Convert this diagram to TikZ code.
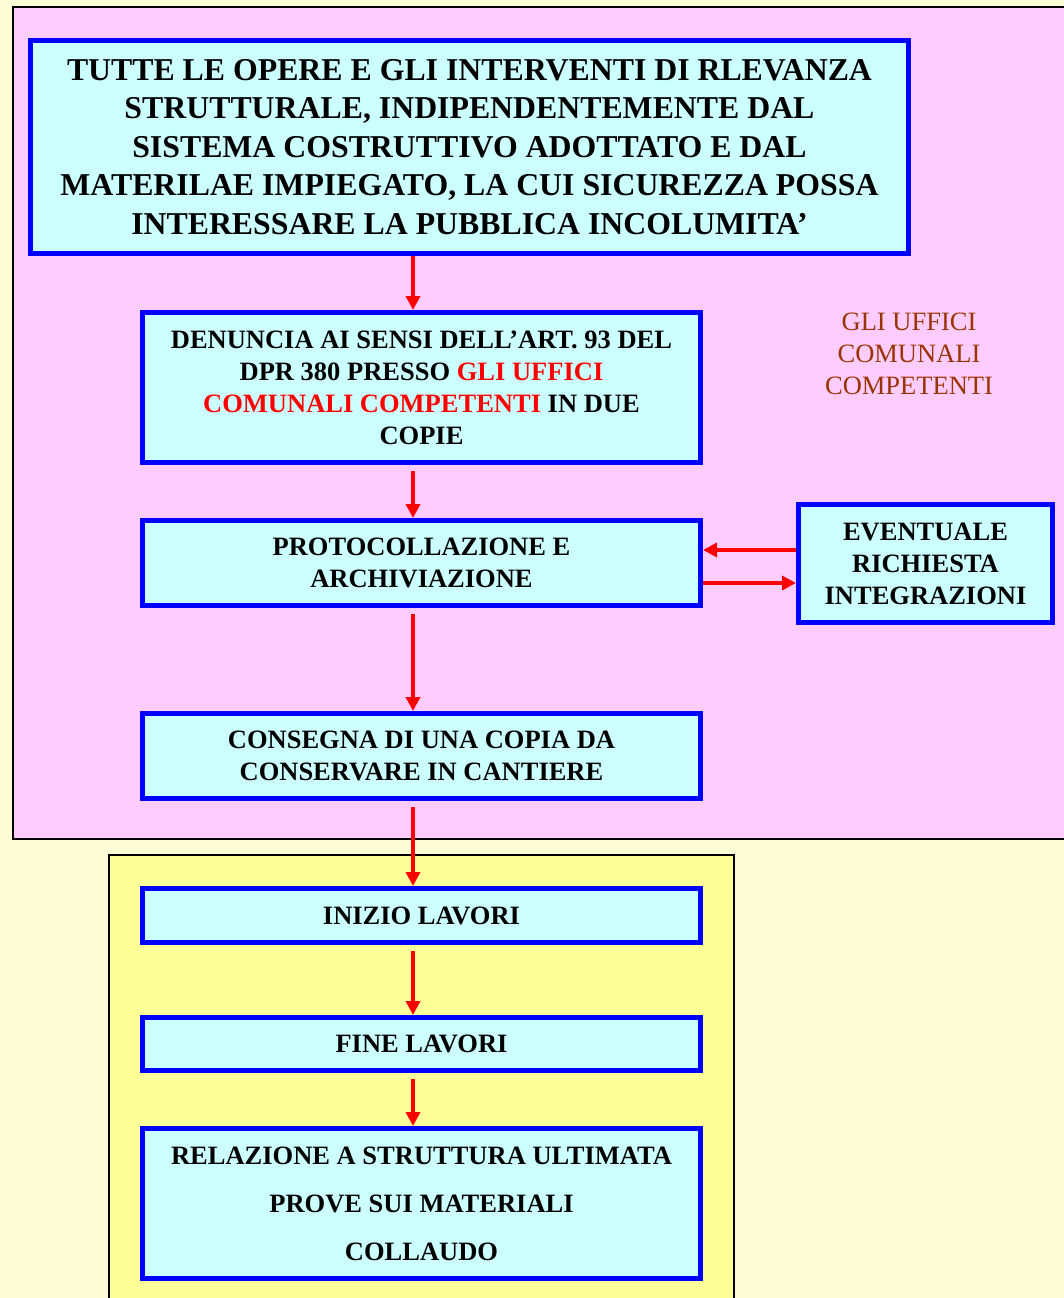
\documentclass[tikz,border=0pt]{standalone}
\usepackage{fontspec}
\setmainfont{Liberation Serif}
\usetikzlibrary{arrows.meta}
\definecolor{bgyellow}{HTML}{FCFCD6}
\definecolor{areapink}{HTML}{FFCCFF}
\definecolor{areayellow}{HTML}{FFFF99}
\definecolor{boxcyan}{HTML}{CCFFFF}
\definecolor{notebrown}{HTML}{993300}

\begin{document}
\begin{tikzpicture}[x=1pt,y=-1pt,
  box node/.style={rectangle,draw=blue,line width=5pt,fill=boxcyan,align=center,inner sep=0pt,minimum width=558pt,font=\fontsize{26.5}{32}\selectfont\bfseries},
  big node/.style={box node,font=\fontsize{31.8}{38.5}\selectfont\bfseries},
  note node/.style={align=center,text=notebrown,font=\fontsize{26.5}{32}\selectfont},
  flow/.style={red,line width=4pt,-{Triangle[length=14pt,width=14pt]}},
  area/.style={draw=black,line width=1.5pt}]

  \useasboundingbox (0,0) rectangle (1064,1298);
  \clip (0,0) rectangle (1064,1298);
  \fill[bgyellow] (0,0) rectangle (1064,1298);
  \filldraw[area,fill=areapink] (13,7) rectangle (1080,839);
  \filldraw[area,fill=areayellow] (109,855) rectangle (734,1320);

  \node[big node,minimum width=878pt,minimum height=213pt] (opere) at (469.5,147)
    {TUTTE LE OPERE E GLI INTERVENTI DI RLEVANZA\\STRUTTURALE, INDIPENDENTEMENTE DAL\\SISTEMA COSTRUTTIVO ADOTTATO E DAL\\MATERILAE IMPIEGATO, LA CUI SICUREZZA POSSA\\INTERESSARE LA PUBBLICA INCOLUMITA’};
  \node[box node,minimum height=150pt] (denuncia) at (421.5,387.5)
    {DENUNCIA AI SENSI DELL’ART. 93 DEL\\DPR 380 PRESSO \textcolor{red}{GLI UFFICI}\\\textcolor{red}{COMUNALI COMPETENTI} IN DUE\\COPIE};
  \node[box node,minimum height=85pt] (protoc) at (421.5,563) {PROTOCOLLAZIONE E\\ARCHIVIAZIONE};
  \node[box node,minimum width=254pt,minimum height=118pt] (integr) at (925.5,563.5) {EVENTUALE\\RICHIESTA\\INTEGRAZIONI};
  \node[box node,minimum height=85pt] (consegna) at (421.5,756) {CONSEGNA DI UNA COPIA DA\\CONSERVARE IN CANTIERE};
  \node[box node,minimum height=54pt] (inizio) at (421.5,915.5) {INIZIO LAVORI};
  \node[box node,minimum height=53pt] (fine) at (421.5,1044) {FINE LAVORI};
  \node[box node,minimum height=150pt,font=\fontsize{26.5}{48}\selectfont\bfseries] (relazione) at (421.5,1203.5)
    {RELAZIONE A STRUTTURA ULTIMATA\\PROVE SUI MATERIALI\\COLLAUDO};
  \node[note node] (uffici) at (909,354) {GLI UFFICI\\COMUNALI\\COMPETENTI};

  % frecce
  \coordinate (axis) at (413,0);
  \draw[flow] (opere.south -| axis) -- (denuncia.north -| axis);
  \draw[flow,shorten <=6pt] (denuncia.south -| axis) -- (protoc.north -| axis);
  \draw[flow,shorten <=6pt] (protoc.south -| axis) -- (consegna.north -| axis);
  \draw[flow,shorten <=6pt] (consegna.south -| axis) -- (inizio.north -| axis);
  \draw[flow,shorten <=6pt] (inizio.south -| axis) -- (fine.north -| axis);
  \draw[flow,shorten <=6pt] (fine.south -| axis) -- (relazione.north -| axis);
  \draw[flow] ([yshift=13.5pt]integr.west) -- ([yshift=13.5pt]integr.west -| protoc.east);
  \draw[flow] ([yshift=-19.5pt]integr.west -| protoc.east) -- ([yshift=-19.5pt]integr.west);
\end{tikzpicture}
\end{document}
